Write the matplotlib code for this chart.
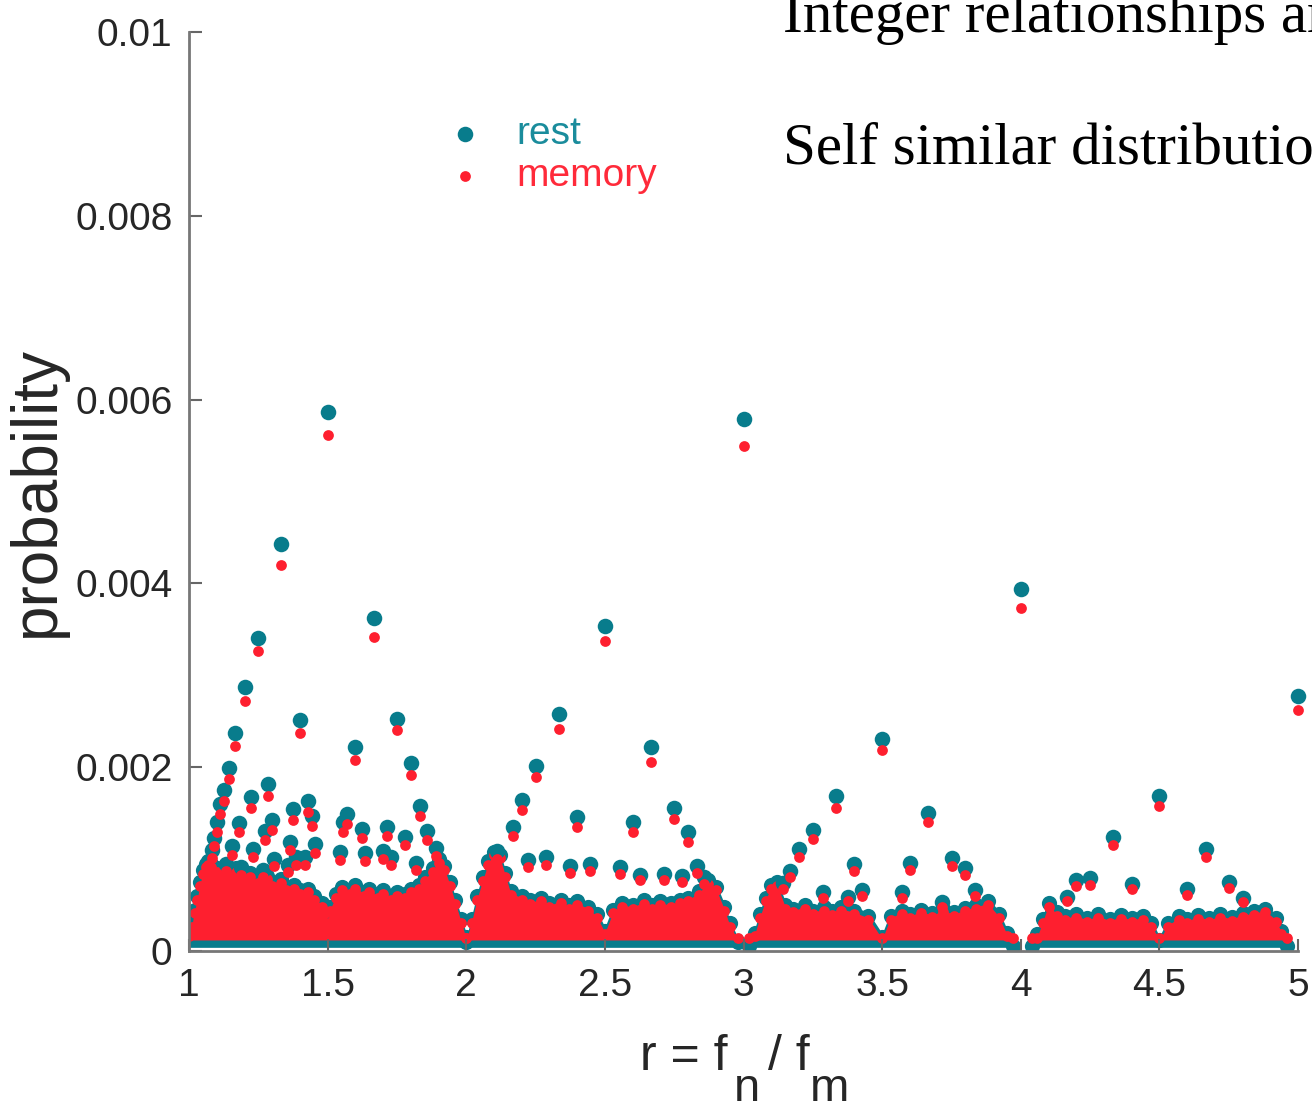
import matplotlib
matplotlib.use("Agg")
import matplotlib.pyplot as plt
from matplotlib.ticker import FuncFormatter
from fractions import Fraction
import numpy as np

# isolated points (ratio, probability at rest, probability during memory task)
peak_r = ["3/2", "4/3", "5/3", "5/4", "6/5", "7/6", "8/7", "9/8", "10/9", "11/10",
          "12/11", "13/12", "7/5", "7/4", "8/5", "9/5", "9/7", "11/9", "13/11", "15/13",
          "11/8", "10/7", "13/9", "13/10", "14/11", "15/11", "16/13", "16/11", "14/9", "11/7",
          "13/8", "12/7", "16/9", "11/6", "13/7", "17/9", "17/11", "17/10", "19/11", "20/11",
          "18/11", "18/13", "17/12", "19/14", "17/13", "17/15", "19/16", "19/15",
          "5/2", "7/3", "8/3", "9/4", "11/5", "13/6", "12/5", "13/5", "11/4", "14/5",
          "19/9", "20/9", "16/7", "19/8", "22/9", "23/9", "21/8", "19/7", "25/9", "17/6", "20/7",
          "3/1", "7/2", "10/3", "11/3", "13/4", "16/5", "19/6", "17/5", "18/5", "15/4",
          "19/5", "23/6", "22/7", "24/7", "23/7", "25/7", "26/7", "27/8",
          "4/1", "5/1", "9/2", "13/3", "14/3", "22/5", "23/5", "19/4", "21/5", "17/4",
          "25/6", "24/5"]
peak_rest = [0.00587, 0.00443, 0.00362, 0.00341, 0.00287, 0.00237, 0.00199, 0.00175, 0.00160, 0.00140,
             0.00123, 0.00110, 0.00251, 0.00252, 0.00222, 0.00205, 0.00182, 0.00168, 0.00139, 0.00114,
             0.00154, 0.00163, 0.00147, 0.00143, 0.00131, 0.00119, 0.00111, 0.00116, 0.00140, 0.00149,
             0.00133, 0.00135, 0.00124, 0.00158, 0.00131, 0.00112, 0.00108, 0.00109, 0.00102, 0.00096,
             0.00107, 0.00102, 0.00102, 0.00094, 0.00100, 0.00095, 0.00091, 0.00088,
             0.00354, 0.00258, 0.00222, 0.00201, 0.00164, 0.00135, 0.00146, 0.00140, 0.00156, 0.00129,
             0.00109, 0.00099, 0.00102, 0.00092, 0.00095, 0.00091, 0.00083, 0.00084, 0.00082, 0.00092, 0.00080,
             0.00579, 0.00231, 0.00169, 0.00150, 0.00132, 0.00111, 0.00087, 0.00095, 0.00096, 0.00101,
             0.00090, 0.00066, 0.00074, 0.00066, 0.00064, 0.00064, 0.00053, 0.00059,
             0.00394, 0.00277, 0.00169, 0.00124, 0.00111, 0.00073, 0.00067, 0.00075, 0.00077, 0.00079,
             0.00059, 0.00058]
peak_memory = [0.00561, 0.00420, 0.00342, 0.00326, 0.00272, 0.00223, 0.00187, 0.00163, 0.00149, 0.00130,
               0.00114, 0.00101, 0.00237, 0.00240, 0.00208, 0.00192, 0.00169, 0.00156, 0.00129, 0.00105,
               0.00143, 0.00151, 0.00136, 0.00132, 0.00121, 0.00110, 0.00102, 0.00107, 0.00130, 0.00138,
               0.00123, 0.00125, 0.00115, 0.00147, 0.00121, 0.00103, 0.00099, 0.00100, 0.00094, 0.00088,
               0.00098, 0.00094, 0.00094, 0.00086, 0.00092, 0.00087, 0.00083, 0.00080,
               0.00337, 0.00242, 0.00206, 0.00189, 0.00153, 0.00125, 0.00135, 0.00130, 0.00144, 0.00119,
               0.00100, 0.00091, 0.00094, 0.00085, 0.00087, 0.00084, 0.00077, 0.00077, 0.00075, 0.00085, 0.00073,
               0.00550, 0.00219, 0.00156, 0.00140, 0.00122, 0.00102, 0.00080, 0.00087, 0.00088, 0.00093,
               0.00083, 0.00060, 0.00068, 0.00060, 0.00058, 0.00058, 0.00048, 0.00054,
               0.00373, 0.00262, 0.00158, 0.00115, 0.00102, 0.00067, 0.00061, 0.00069, 0.00071, 0.00072,
               0.00054, 0.00053]

# top of the dense cloud of points near zero, one list per interval
mass_r = [
    [1.00, 1.01, 1.02, 1.03, 1.04, 1.05, 1.06, 1.07, 1.08, 1.10, 1.12, 1.15, 1.17, 1.20, 1.22,
     1.25, 1.28, 1.30, 1.33, 1.35, 1.38, 1.40, 1.43, 1.45, 1.48, 1.49, 1.50,
     1.51, 1.53, 1.55, 1.58, 1.60, 1.63, 1.65, 1.68, 1.70, 1.73, 1.75, 1.78, 1.80, 1.83, 1.85,
     1.88, 1.90, 1.92, 1.94, 1.96, 1.98, 2.00],
    [2.00, 2.02, 2.04, 2.06, 2.08, 2.10, 2.12, 2.14, 2.16, 2.20, 2.23, 2.27, 2.30, 2.34, 2.37,
     2.40, 2.44, 2.47, 2.50, 2.53, 2.56, 2.60, 2.64, 2.67, 2.70, 2.74, 2.77, 2.80, 2.84, 2.87,
     2.90, 2.93, 2.95, 2.98],
    [3.02, 3.04, 3.06, 3.08, 3.10, 3.12, 3.15, 3.18, 3.22, 3.25, 3.29, 3.32, 3.35, 3.40, 3.45,
     3.50, 3.53, 3.57, 3.60, 3.64, 3.68, 3.72, 3.76, 3.80, 3.84, 3.88, 3.92, 3.95, 3.97],
    [4.04, 4.06, 4.08, 4.10, 4.13, 4.16, 4.20, 4.24, 4.28, 4.32, 4.36, 4.40, 4.44, 4.47, 4.50,
     4.53, 4.57, 4.60, 4.64, 4.68, 4.72, 4.76, 4.80, 4.84, 4.88, 4.92, 4.94, 4.96],
]
mass_top = [
    [0.00020, 0.00030, 0.00045, 0.00060, 0.00075, 0.00088, 0.00095, 0.00098, 0.00095, 0.00090,
     0.00088, 0.00085, 0.00090, 0.00080, 0.00085, 0.00078, 0.00082, 0.00075, 0.00078, 0.00070,
     0.00072, 0.00066, 0.00068, 0.00060, 0.00052, 0.00045, 0.00035,
     0.00048, 0.00062, 0.00070, 0.00066, 0.00072, 0.00064, 0.00068, 0.00062, 0.00066, 0.00060,
     0.00064, 0.00062, 0.00068, 0.00072, 0.00080, 0.00090, 0.00100, 0.00092, 0.00075, 0.00055,
     0.00035, 0.00015],
    [0.00010, 0.00035, 0.00060, 0.00080, 0.00098, 0.00108, 0.00105, 0.00085, 0.00065, 0.00060,
     0.00055, 0.00058, 0.00052, 0.00056, 0.00050, 0.00054, 0.00048, 0.00040, 0.00022, 0.00045,
     0.00052, 0.00050, 0.00055, 0.00050, 0.00054, 0.00052, 0.00056, 0.00058, 0.00065, 0.00077,
     0.00070, 0.00048, 0.00030, 0.00010],
    [0.00005, 0.00020, 0.00040, 0.00058, 0.00072, 0.00075, 0.00050, 0.00046, 0.00050, 0.00044,
     0.00048, 0.00043, 0.00048, 0.00044, 0.00038, 0.00015, 0.00038, 0.00044, 0.00040, 0.00045,
     0.00041, 0.00046, 0.00042, 0.00047, 0.00050, 0.00054, 0.00040, 0.00020, 0.00005],
    [0.00005, 0.00018, 0.00035, 0.00052, 0.00042, 0.00038, 0.00040, 0.00036, 0.00040, 0.00035,
     0.00039, 0.00036, 0.00038, 0.00030, 0.00012, 0.00030, 0.00038, 0.00035, 0.00039, 0.00036,
     0.00040, 0.00037, 0.00041, 0.00043, 0.00046, 0.00036, 0.00022, 0.00005],
]

teal = "#087c8c"
red = "#fe1f2f"
ink = "#262626"

fig = plt.figure(figsize=(13.12, 11.11), dpi=100)
ax = fig.add_axes([0.1441, 0.1440, 0.8453, 0.8272])

x_peak = [float(Fraction(s)) for s in peak_r]

# dense cloud: teal rim under a red body, dots along its upper edge
for xs, ts in zip(mass_r, mass_top):
    xs = np.array(xs)
    ts = np.array(ts)
    ax.fill_between(xs, 0.00004, ts + 0.00004, color=teal, lw=0)
    ax.scatter(xs, ts, s=120, color=teal, lw=0)
for xs, ts in zip(mass_r, mass_top):
    xs = np.array(xs)
    ts = np.array(ts)
    ax.fill_between(xs, 0.00012, np.maximum(ts - 0.00002, 0.00012), color=red, lw=0)
    ax.scatter(xs, np.maximum(ts - 0.00004, 0.00014), s=60, color=red, lw=0)

h_rest = ax.scatter(x_peak, peak_rest, s=125, color=teal, lw=0, clip_on=False, label="rest")
h_mem = ax.scatter(x_peak, peak_memory, s=60, color=red, lw=0, clip_on=False, label="memory")

ax.set_xlim(1, 5)
ax.set_ylim(0, 0.01)
ax.set_xticks([1, 1.5, 2, 2.5, 3, 3.5, 4, 4.5, 5])
ax.set_yticks([0, 0.002, 0.004, 0.006, 0.008, 0.01])
ax.xaxis.set_major_formatter(FuncFormatter(lambda v, p: "%g" % v))
ax.yaxis.set_major_formatter(FuncFormatter(lambda v, p: "%g" % v))
ax.tick_params(direction="in", length=9, width=1.5, color="#666666",
               labelsize=28, labelcolor=ink, pad=12)
for lab in ax.get_xticklabels() + ax.get_yticklabels():
    lab.set_family("Liberation Sans")
for side in ["top", "right"]:
    ax.spines[side].set_visible(False)
for side in ["left", "bottom"]:
    ax.spines[side].set_color("#777777")
    ax.spines[side].set_linewidth(2)

ax.set_ylabel("probability", fontsize=46, family="Liberation Sans", color=ink, labelpad=6)

# x label built from pieces so the subscripts sit low like the original
fig.text(640 / 1312, 1 - 1070 / 1111, "r = f", fontsize=36, family="Liberation Sans",
         color=ink, va="baseline")
fig.text(734 / 1312, 1 - 1101 / 1111, "n", fontsize=34, family="Liberation Sans",
         color=ink, va="baseline")
fig.text(768 / 1312, 1 - 1070 / 1111, "/ f", fontsize=36, family="Liberation Sans",
         color=ink, va="baseline")
fig.text(810 / 1312, 1 - 1101 / 1111, "m", fontsize=34, family="Liberation Sans",
         color=ink, va="baseline")

leg = fig.legend(handles=[h_rest, h_mem], loc="upper left",
                 bbox_to_anchor=(446 / 1312, 1 - 116 / 1111), frameon=False,
                 handlelength=1.0, handletextpad=0.8, labelspacing=0.15,
                 borderpad=0, borderaxespad=0, prop={"family": "Liberation Sans", "size": 28})
leg.get_texts()[0].set_color("#1a8c9c")
leg.get_texts()[1].set_color("#ff2a3a")

fig.text(783 / 1312, 1 - 32 / 1111, "Integer relationships are", fontsize=42.5,
         family="Liberation Serif", va="baseline")
fig.text(783 / 1312, 1 - 163 / 1111, "Self similar distribution", fontsize=42.5,
         family="Liberation Serif", va="baseline")

fig.savefig("out.png", dpi=100)
